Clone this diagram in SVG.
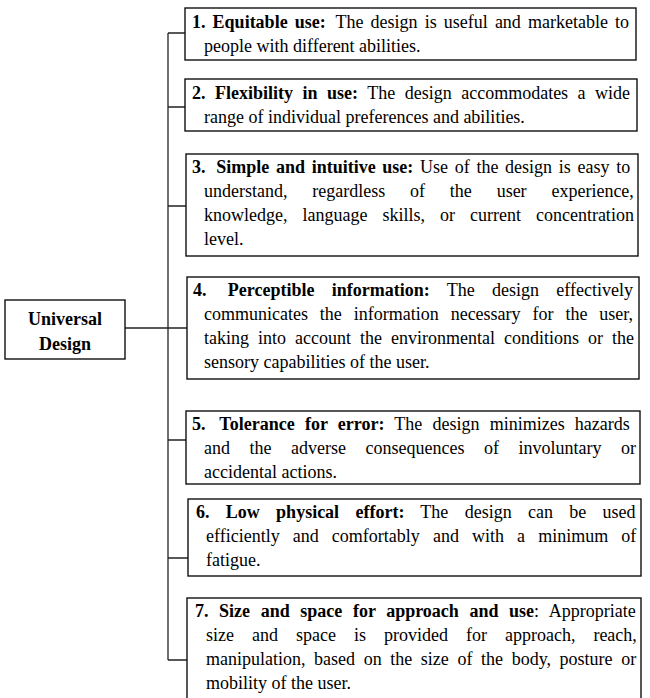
<svg xmlns="http://www.w3.org/2000/svg" width="650" height="698" viewBox="0 0 650 698" font-family="Liberation Serif, Times New Roman, DejaVu Serif, serif">
<style>
.box{fill:#fff;stroke:#111;stroke-width:1.4}
.t{font-family:'Liberation Serif','Times New Roman','DejaVu Serif',serif;font-size:18px;fill:#000}
.b{font-weight:bold}
.c{fill:none;stroke:#222;stroke-width:1.3}
</style>
<rect width="650" height="698" fill="#fff"/>
<g id="connectors">
<path class="c" d="M168,33 V660 M168,33 H185 M168,107 H185 M168,206 H186 M125,328 H187 M168,440 H186 M168,558 H188 M168,660 H187"/>
</g>
<g id="universal-design">
<rect class="box" x="5" y="300" width="120" height="59"/>
<text class="t b" x="65" y="325" text-anchor="middle">Universal</text>
<text class="t b" x="65" y="350" text-anchor="middle">Design</text>
</g>
<g id="p1">
<rect class="box" x="185" y="8" width="451" height="52"/>
<text class="t" x="192" y="28" style="word-spacing:2.6px"><tspan class="b">1. Equitable use:</tspan><tspan dx="3"> The design is useful and marketable to</tspan></text>
<text class="t" x="204" y="52">people with different abilities.</text>
</g>
<g id="p2">
<rect class="box" x="185" y="79" width="452" height="52"/>
<text class="t" x="192" y="99" style="word-spacing:5px"><tspan class="b">2. Flexibility in use:</tspan> The design accommodates a wide</text>
<text class="t" x="204" y="123">range of individual preferences and abilities.</text>
</g>
<g id="p3">
<rect class="box" x="186" y="154" width="452" height="102"/>
<text class="t" x="192" y="173" style="word-spacing:2.2px"><tspan class="b">3.</tspan><tspan class="b" dx="4"> Simple and intuitive use:</tspan> Use of the design is easy to</text>
<text class="t" x="204" y="197" style="word-spacing:20.3px">understand, regardless of the user experience,</text>
<text class="t" x="204" y="221" style="word-spacing:10.5px">knowledge, language skills, or current concentration</text>
<text class="t" x="204" y="245">level.</text>
</g>
<g id="p4">
<rect class="box" x="187" y="277" width="452" height="102"/>
<text class="t" x="193" y="296" style="word-spacing:12.8px"><tspan class="b">4.</tspan><tspan class="b" dx="4"> Perceptible information:</tspan> The design effectively</text>
<text class="t" x="204" y="320" style="word-spacing:7.4px">communicates the information necessary for the user,</text>
<text class="t" x="204" y="344" style="word-spacing:4.5px">taking into account the environmental conditions or the</text>
<text class="t" x="204" y="368">sensory capabilities of the user.</text>
</g>
<g id="p5">
<rect class="box" x="186" y="411" width="454" height="73"/>
<text class="t" x="192" y="430" style="word-spacing:5.7px"><tspan class="b">5.</tspan><tspan class="b" dx="4"> Tolerance for error:</tspan> The design minimizes hazards</text>
<text class="t" x="204" y="454" style="word-spacing:15px">and the adverse consequences of involuntary or</text>
<text class="t" x="204" y="478">accidental actions.</text>
</g>
<g id="p6">
<rect class="box" x="188" y="499" width="453" height="77"/>
<text class="t" x="196" y="518" style="word-spacing:11.8px"><tspan class="b">6. Low physical effort:</tspan> The design can be used</text>
<text class="t" x="206" y="542" style="word-spacing:8.6px">efficiently and comfortably and with a minimum of</text>
<text class="t" x="206" y="566">fatigue.</text>
</g>
<g id="p7">
<rect class="box" x="187" y="598" width="454" height="110"/>
<text class="t" x="195" y="617" style="word-spacing:6.1px"><tspan class="b">7. Size and space for approach and use</tspan>: Appropriate</text>
<text class="t" x="206" y="641" style="word-spacing:13.5px">size and space is provided for approach, reach,</text>
<text class="t" x="206" y="665" style="word-spacing:4.1px">manipulation, based on the size of the body, posture or</text>
<text class="t" x="206" y="689">mobility of the user.</text>
</g>
</svg>
